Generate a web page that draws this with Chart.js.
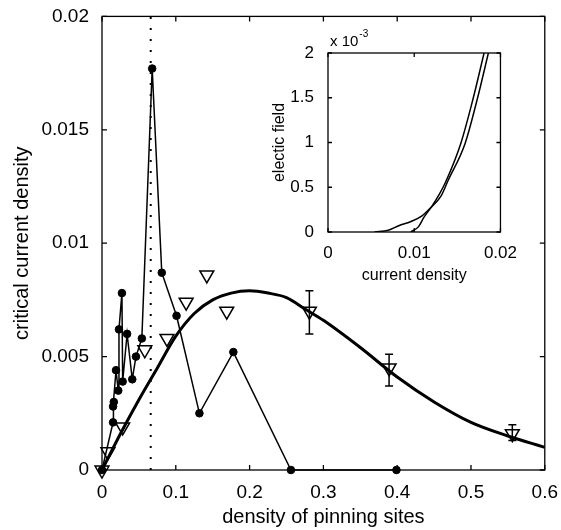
<!DOCTYPE html>
<html>
<head>
<meta charset="utf-8">
<script src="https://cdn.jsdelivr.net/npm/chart.js@4.4.0/dist/chart.umd.min.js"></script>
<style>
  html, body { margin: 0; padding: 0; background: #fff; }
  #wrap { position: relative; width: 561px; height: 530px; }
  #main { position: absolute; left: 0; top: 0; }
  #inset { position: absolute; left: 270px; top: 20px; }
</style>
</head>
<body>
<div id="wrap">
  <canvas id="main" width="561" height="530"></canvas>
  <canvas id="inset" width="250" height="270"></canvas>
</div>
<script>
'use strict';

// ── MAIN DATA ──
// filled circles (joined by a thin line)
const circleX = [0, 0.015, 0.015, 0.016, 0.019, 0.022, 0.023, 0.027, 0.028, 0.034, 0.041, 0.046, 0.054, 0.068, 0.081, 0.101, 0.132, 0.178, 0.256, 0.399];
const circleY = [0, 0.0021, 0.0028, 0.0030, 0.0044, 0.0035, 0.0062, 0.0078, 0.0039, 0.0060, 0.0040, 0.0050, 0.0058, 0.0177, 0.0087, 0.0068, 0.0025, 0.0052, 0, 0];

// open down-triangles
const triX = [0, 0.008, 0.028, 0.058, 0.088, 0.114, 0.142, 0.169, 0.281, 0.389, 0.556];
const triY = [0, 0.0008, 0.0019, 0.0053, 0.0058, 0.0074, 0.0086, 0.0070, 0.0070, 0.0045, 0.0016];

// error bars on some triangles
const errX  = [0.281, 0.389, 0.556];
const errLo = [0.0060, 0.0037, 0.0013];
const errHi = [0.0079, 0.0051, 0.0020];

// thick fitted curve
const fitX = [0, 0.025, 0.05, 0.075, 0.1, 0.125, 0.15, 0.175, 0.2, 0.225, 0.25, 0.275, 0.3, 0.35, 0.4, 0.45, 0.5, 0.55, 0.6];
const fitY = [0, 0.0016, 0.0031, 0.0045, 0.0059, 0.0069, 0.0075, 0.0078, 0.0079, 0.0078, 0.0076, 0.0071, 0.0066, 0.0054, 0.0041, 0.0030, 0.0021, 0.0015, 0.0010];

// dotted vertical marker
const dotX = [0.066, 0.066];
const dotY = [0, 0.02];

// ── INSET DATA (electric field in units of 1e-3) ──
const jA = [0.0054, 0.007, 0.0082, 0.0097, 0.0109, 0.012, 0.0131, 0.0139, 0.0159, 0.0173, 0.0186];
const eA = [0, 0.02, 0.07, 0.12, 0.18, 0.28, 0.40, 0.57, 0.99, 1.48, 2.0];
const jB = [0.0096, 0.0105, 0.0111, 0.012, 0.0129, 0.0136, 0.0154, 0.0168, 0.0181];
const eB = [0, 0.06, 0.16, 0.28, 0.42, 0.55, 0.99, 1.48, 2.0];

const FONT = "'Liberation Sans', Arial, Helvetica, sans-serif";
const pts = (xs, ys) => xs.map((x, i) => ({ x, y: ys[i] }));
const fmt = v => String(parseFloat(v.toFixed(4)));

// ── FRAME + INWARD TICKS ──
const boxTicks = {
  id: 'boxTicks',
  afterDraw(chart, args, opts) {
    const { ctx, chartArea: a, scales: { x, y } } = chart;
    const len = opts.len || 5;
    ctx.save();
    ctx.strokeStyle = '#000';
    ctx.lineWidth = opts.lw || 1.3;
    ctx.strokeRect(a.left, a.top, a.right - a.left, a.bottom - a.top);
    ctx.beginPath();
    x.ticks.forEach(t => {
      const px = x.getPixelForValue(t.value);
      ctx.moveTo(px, a.bottom); ctx.lineTo(px, a.bottom - len);
      ctx.moveTo(px, a.top);    ctx.lineTo(px, a.top + len);
    });
    y.ticks.forEach(t => {
      const py = y.getPixelForValue(t.value);
      ctx.moveTo(a.left, py);  ctx.lineTo(a.left + len, py);
      ctx.moveTo(a.right, py); ctx.lineTo(a.right - len, py);
    });
    ctx.stroke();
    ctx.restore();
  }
};

// ── ERROR BARS ──
const errBars = {
  id: 'errBars',
  afterDatasetsDraw(chart) {
    const { ctx, scales: { x, y } } = chart;
    ctx.save();
    ctx.strokeStyle = '#000';
    ctx.lineWidth = 1.5;
    ctx.beginPath();
    errX.forEach((v, i) => {
      const px = x.getPixelForValue(v);
      const lo = y.getPixelForValue(errLo[i]);
      const hi = y.getPixelForValue(errHi[i]);
      ctx.moveTo(px, lo); ctx.lineTo(px, hi);
      ctx.moveTo(px - 4, lo); ctx.lineTo(px + 4, lo);
      ctx.moveTo(px - 4, hi); ctx.lineTo(px + 4, hi);
    });
    ctx.stroke();
    ctx.restore();
  }
};

// ── MAIN CHART ──
new Chart(document.getElementById('main'), {
  type: 'line',
  data: {
    datasets: [
      { data: pts(fitX, fitY), borderColor: '#000', borderWidth: 3, pointRadius: 0, cubicInterpolationMode: 'monotone', fill: false },
      { data: pts(circleX, circleY), borderColor: '#000', borderWidth: 1.5, tension: 0,
        pointRadius: 3.8, pointBackgroundColor: '#000', pointBorderColor: '#000', pointBorderWidth: 1, clip: false },
      { data: pts(triX, triY), showLine: false, pointStyle: 'triangle', pointRotation: 180, pointRadius: 8,
        pointBackgroundColor: 'rgba(255,255,255,0)', pointBorderColor: '#000', pointBorderWidth: 1.5, clip: false },
      { data: pts(dotX, dotY), borderColor: '#000', borderWidth: 2, borderDash: [2, 9], pointRadius: 0 }
    ]
  },
  options: {
    responsive: false,
    animation: false,
    layout: { padding: { top: 13, right: 9, left: 0, bottom: 0 } },
    plugins: { legend: { display: false }, tooltip: { enabled: false }, boxTicks: { len: 5, lw: 1.3 } },
    scales: {
      x: {
        type: 'linear', min: 0, max: 0.6,
        ticks: { stepSize: 0.1, padding: 3, color: '#000', font: { family: FONT, size: 19 }, maxRotation: 0, callback: fmt },
        grid: { display: false }, border: { display: false },
        title: { display: true, text: 'density of pinning sites', color: '#000', font: { family: FONT, size: 20 }, padding: { top: 0, bottom: 1 } },
        afterFit: s => { s.height = 60; }
      },
      y: {
        type: 'linear', min: 0, max: 0.02,
        ticks: { stepSize: 0.005, padding: 5, color: '#000', font: { family: FONT, size: 19 }, callback: fmt },
        grid: { display: false }, border: { display: false },
        title: { display: true, text: 'critical current density', color: '#000', font: { family: FONT, size: 20 }, padding: { top: 10, bottom: 0 } },
        afterFit: s => { s.width = 102; }
      }
    }
  },
  plugins: [boxTicks, errBars]
});

// ── INSET EXPONENT LABEL ──
const expLabel = {
  id: 'expLabel',
  afterDraw(chart) {
    const { ctx, chartArea: a } = chart;
    ctx.save();
    ctx.fillStyle = '#000';
    ctx.textBaseline = 'alphabetic';
    ctx.font = `15px ${FONT}`;
    ctx.fillText('x 10', a.left + 2, a.top - 7);
    const w = ctx.measureText('x 10').width;
    ctx.font = `10px ${FONT}`;
    ctx.fillText('-3', a.left + 3 + w, a.top - 16);
    ctx.restore();
  }
};

// ── INSET CHART ──
new Chart(document.getElementById('inset'), {
  type: 'line',
  data: {
    datasets: [
      { data: pts(jA, eA), borderColor: '#000', borderWidth: 1.5, pointRadius: 0, cubicInterpolationMode: 'monotone' },
      { data: pts(jB, eB), borderColor: '#000', borderWidth: 1.5, pointRadius: 0, cubicInterpolationMode: 'monotone' }
    ]
  },
  options: {
    responsive: false,
    animation: false,
    layout: { padding: { top: 33, right: 11, left: 0, bottom: 0 } },
    plugins: { legend: { display: false }, tooltip: { enabled: false }, boxTicks: { len: 4, lw: 1.3 } },
    scales: {
      x: {
        type: 'linear', min: 0, max: 0.02,
        ticks: { stepSize: 0.01, padding: 3, color: '#000', font: { family: FONT, size: 17 }, maxRotation: 0, callback: fmt },
        grid: { display: false }, border: { display: false },
        title: { display: true, text: 'current density', color: '#000', font: { family: FONT, size: 16 }, padding: { top: 0, bottom: 5 } },
        afterFit: s => { s.height = 58; }
      },
      y: {
        type: 'linear', min: 0, max: 2,
        ticks: { stepSize: 0.5, padding: 6, color: '#000', font: { family: FONT, size: 17 }, callback: fmt },
        grid: { display: false }, border: { display: false },
        title: { display: true, text: 'electic field', color: '#000', font: { family: FONT, size: 16 }, padding: { top: 0, bottom: 0 } },
        afterFit: s => { s.width = 58; }
      }
    }
  },
  plugins: [boxTicks, expLabel]
});
</script>
</body>
</html>
